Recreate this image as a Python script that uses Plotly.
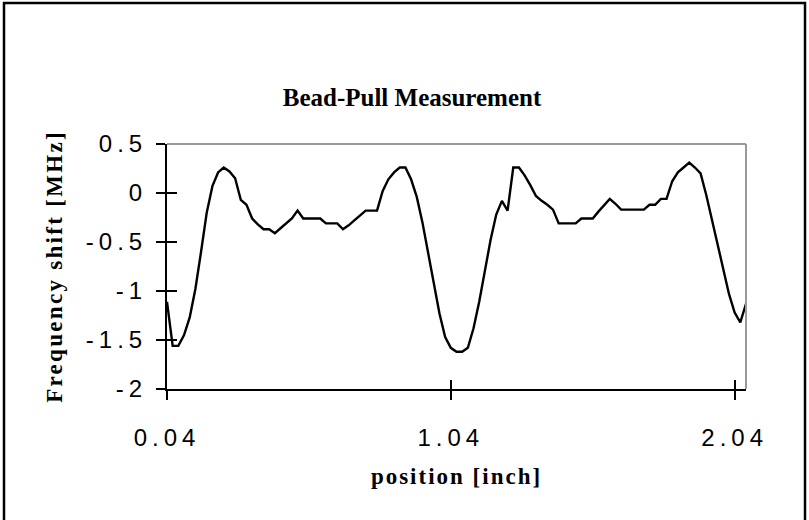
import plotly.graph_objects as go

# ---- data ----
positions = [0.04, 0.06, 0.08, 0.10, 0.12, 0.14, 0.16, 0.18, 0.20, 0.22,
             0.24, 0.26, 0.28, 0.30, 0.32, 0.34, 0.36, 0.38, 0.40, 0.42,
             0.44, 0.46, 0.48, 0.50, 0.52, 0.54, 0.56, 0.58, 0.60, 0.62,
             0.64, 0.66, 0.68, 0.70, 0.72, 0.74, 0.76, 0.78, 0.80, 0.82,
             0.84, 0.86, 0.88, 0.90, 0.92, 0.94, 0.96, 0.98, 1.00, 1.02,
             1.04, 1.06, 1.08, 1.10, 1.12, 1.14, 1.16, 1.18, 1.20, 1.22,
             1.24, 1.26, 1.28, 1.30, 1.32, 1.34, 1.36, 1.38, 1.40, 1.42,
             1.44, 1.46, 1.48, 1.50, 1.52, 1.54, 1.56, 1.58, 1.60, 1.62,
             1.64, 1.66, 1.68, 1.70, 1.72, 1.74, 1.76, 1.78, 1.80, 1.82,
             1.84, 1.86, 1.88, 1.90, 1.92, 1.94, 1.96, 1.98, 2.00, 2.02,
             2.04, 2.06, 2.08]

freq_shift = [-1.11, -1.56, -1.56, -1.45, -1.27, -0.98, -0.60, -0.20, 0.07, 0.21,
              0.26, 0.22, 0.15, -0.07, -0.12, -0.26, -0.32, -0.37, -0.37, -0.41,
              -0.36, -0.31, -0.26, -0.18, -0.26, -0.26, -0.26, -0.26, -0.31, -0.31,
              -0.31, -0.37, -0.33, -0.28, -0.23, -0.18, -0.18, -0.18, 0.02, 0.14,
              0.21, 0.26, 0.26, 0.14, -0.04, -0.30, -0.61, -0.94, -1.23, -1.47,
              -1.58, -1.62, -1.62, -1.58, -1.38, -1.11, -0.80, -0.48, -0.22, -0.08,
              -0.18, 0.26, 0.26, 0.18, 0.08, -0.03, -0.08, -0.12, -0.17, -0.31,
              -0.31, -0.31, -0.31, -0.26, -0.26, -0.26, -0.19, -0.12, -0.06, -0.11,
              -0.17, -0.17, -0.17, -0.17, -0.17, -0.12, -0.12, -0.06, -0.06, 0.12,
              0.21, 0.26, 0.31, 0.26, 0.20, -0.02, -0.27, -0.55, -0.80, -1.03,
              -1.22, -1.32, -1.13]

x_tick_vals = [0.04, 1.04, 2.04]
x_tick_labels = ["0.04", "1.04", "2.04"]
y_tick_vals = [0.5, 0, -0.5, -1, -1.5, -2]
y_tick_labels = ["0.5", "0", "-0.5", "-1", "-1.5", "-2"]

title_text = "Bead-Pull Measurement"
x_title = "position [inch]"
y_title = "Frequency shift [MHz]"

SERIF = "Liberation Serif, Times New Roman, serif"
SANS = "Liberation Sans, Arial, sans-serif"


def spaced(t, px):
    return '<span style="letter-spacing:%spx">%s</span>' % (px, t)


fig = go.Figure()
fig.add_trace(go.Scatter(
    x=positions, y=freq_shift, mode="lines",
    line=dict(color="black", width=2.4),
    showlegend=False, hoverinfo="x+y",
))
# empty trace so that the overlay axes (inner half of the crossing ticks) are drawn
fig.add_trace(go.Scatter(x=[], y=[], xaxis="x2", yaxis="y2", showlegend=False))

fig.update_layout(
    width=809, height=520,
    margin=dict(l=167, r=63, t=144, b=131, autoexpand=False),
    paper_bgcolor="white", plot_bgcolor="white",
    title=dict(text=title_text, x=412 / 809, xref="container", xanchor="center",
               y=1 - 97 / 520, yref="container", yanchor="middle",
               font=dict(family=SERIF, size=25, color="black", weight="bold")),
    xaxis=dict(
        range=[0.04, 2.08], tickmode="array", tickvals=x_tick_vals,
        ticktext=[spaced(t, 5) for t in x_tick_labels],
        ticks="outside", ticklen=9, tickwidth=2, tickcolor="black",
        ticklabelstandoff=17,
        showline=True, linecolor="black", linewidth=2,
        showgrid=False, zeroline=False,
        tickfont=dict(family=SANS, size=24, color="black"),
        title=dict(text=spaced(x_title, 2), standoff=18,
                   font=dict(family=SERIF, size=23, color="black", weight="bold")),
    ),
    yaxis=dict(
        range=[-2, 0.5], tickmode="array", tickvals=y_tick_vals,
        ticktext=[spaced(t, 5) for t in y_tick_labels],
        ticks="outside", ticklen=9, tickwidth=2, tickcolor="black",
        ticklabelstandoff=4,
        showline=True, linecolor="black", linewidth=2,
        showgrid=False, zeroline=False,
        tickfont=dict(family=SANS, size=24, color="black"),
        title=dict(text=spaced(y_title, 2.3), standoff=17,
                   font=dict(family=SERIF, size=23, color="black", weight="bold")),
    ),
    xaxis2=dict(
        overlaying="x", matches="x", anchor="y2", side="bottom",
        tickmode="array", tickvals=x_tick_vals, showticklabels=False,
        ticks="inside", ticklen=9, tickwidth=2, tickcolor="black",
        showline=False, showgrid=False, zeroline=False,
    ),
    yaxis2=dict(
        overlaying="y", matches="y", anchor="x2", side="left",
        tickmode="array", tickvals=y_tick_vals, showticklabels=False,
        ticks="inside", ticklen=10, tickwidth=2, tickcolor="black",
        showline=False, showgrid=False, zeroline=False,
    ),
    shapes=[
        # grey plot-area border (top and right)
        dict(type="line", xref="paper", yref="paper", x0=0, x1=1, y0=1, y1=1,
             line=dict(color="#999999", width=2)),
        dict(type="line", xref="paper", yref="paper", x0=1, x1=1, y0=0, y1=1,
             line=dict(color="#999999", width=2)),
        # outer chart frame
        dict(type="rect", xref="paper", yref="paper",
             x0=(4 - 167) / 579, x1=(805 - 167) / 579,
             y0=-0.7, y1=(389 - 3) / 245,
             line=dict(color="black", width=2.5), layer="below"),
    ],
)

fig.write_html(
    "out.html",
    config={"displayModeBar": False},
    post_script="document.body.style.margin='0';document.body.style.overflow='hidden';",
)
